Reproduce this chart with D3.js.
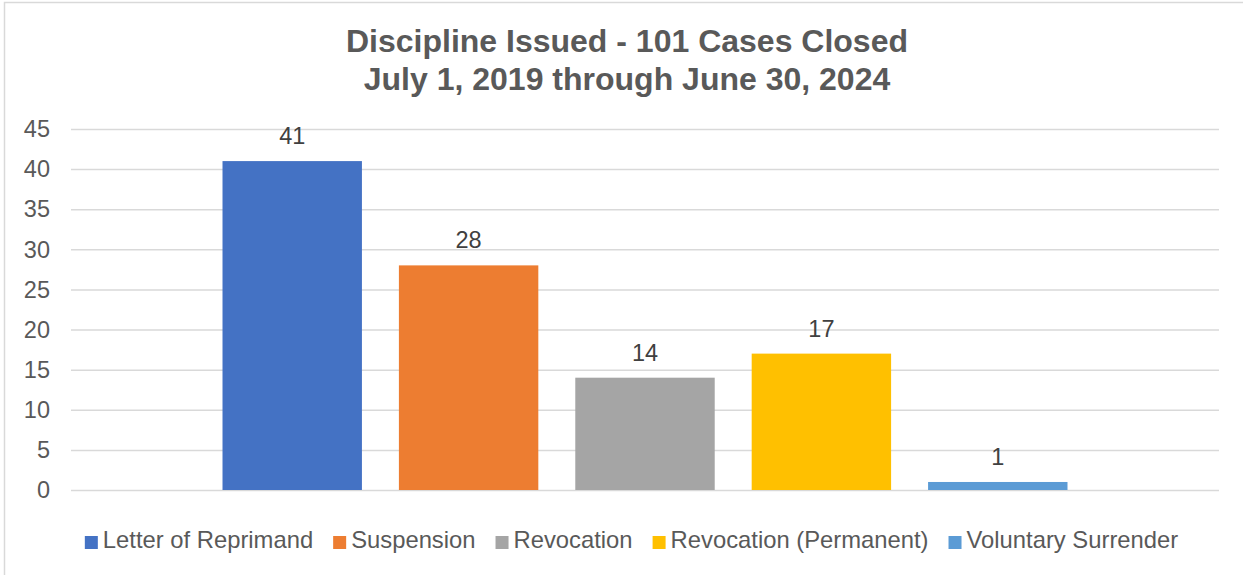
<!DOCTYPE html>
<html>
<head>
<meta charset="utf-8">
<script src="https://cdn.jsdelivr.net/npm/d3@7"></script>
<style>
  html, body { margin: 0; padding: 0; background: #fff; }
  svg { display: block; font-family: "Liberation Sans", Arial, sans-serif; }
</style>
</head>
<body>
<svg id="chart" width="1243" height="575"></svg>
<script>
const titleLines = ["Discipline Issued - 101 Cases Closed", "July 1, 2019 through June 30, 2024"];
const categories = [""];
const seriesNames = ["Letter of Reprimand", "Suspension", "Revocation", "Revocation (Permanent)", "Voluntary Surrender"];
const seriesValues = [41, 28, 14, 17, 1];
const seriesColors = ["#4472C4", "#ED7D31", "#A5A5A5", "#FFC000", "#5B9BD5"];
const yTicks = [0, 5, 10, 15, 20, 25, 30, 35, 40, 45];

const svg = d3.select("#chart");
const W = 1243, H = 575;
const textColor = "#595959";
const gridColor = "#D9D9D9";

// chart border (extends past right/bottom edge like the reference)
svg.append("rect")
  .attr("x", 4.5).attr("y", 2.5)
  .attr("width", W + 10).attr("height", H + 10)
  .attr("fill", "#fff").attr("stroke", gridColor).attr("stroke-width", 1.5);

// title
svg.append("g").selectAll("text").data(titleLines).join("text")
  .attr("x", 627).attr("y", (d, i) => 52 + i * 38)
  .attr("text-anchor", "middle")
  .attr("font-size", 32).attr("font-weight", "bold")
  .attr("fill", textColor)
  .text(d => d);

const plot = { left: 71, right: 1219, top: 129, bottom: 490 };

const y = d3.scaleLinear().domain([0, 45]).range([plot.bottom, plot.top]);
const x0 = d3.scaleBand().domain(categories).range([plot.left, plot.right])
  .paddingInner(0).paddingOuter(0.1793);
const x1 = d3.scaleBand().domain(seriesNames).range([0, x0.bandwidth()])
  .paddingInner(0.2096).paddingOuter(0);

// gridlines
const yAxis = d3.axisLeft(y).tickValues(yTicks).tickSize(-(plot.right - plot.left)).tickPadding(21);
const gAxis = svg.append("g").attr("transform", `translate(${plot.left},0)`).call(yAxis);
gAxis.select(".domain").remove();
gAxis.selectAll(".tick line").attr("stroke", gridColor).attr("stroke-width", 1.5);
gAxis.selectAll(".tick text")
  .attr("fill", textColor).attr("font-size", 23.5)
  .attr("font-family", "Liberation Sans, Arial, sans-serif")
  .attr("dy", "0.33em");

// bars
const data = seriesNames.map((n, i) => ({ name: n, value: seriesValues[i], color: seriesColors[i], cat: categories[0] }));
const gBars = svg.append("g");
gBars.selectAll("rect").data(data).join("rect")
  .attr("x", d => x0(d.cat) + x1(d.name))
  .attr("width", x1.bandwidth())
  .attr("y", d => y(d.value))
  .attr("height", d => y(0) - y(d.value))
  .attr("fill", d => d.color);

// data labels
gBars.selectAll("text").data(data).join("text")
  .attr("x", d => x0(d.cat) + x1(d.name) + x1.bandwidth() / 2)
  .attr("y", d => y(d.value) - 17)
  .attr("text-anchor", "middle")
  .attr("font-size", 23.5).attr("fill", "#404040")
  .text(d => d.value);

// legend
const legend = svg.append("g");
const fontLeg = 23.8, sw = 13, swGap = 5, itemGap = 20;
const items = legend.selectAll("g").data(data).join("g");
items.append("rect").attr("width", sw).attr("height", sw).attr("y", -sw + 1).attr("fill", d => d.color);
items.append("text").attr("x", sw + swGap).attr("font-size", fontLeg).attr("fill", textColor).attr("dy", 0)
  .text(d => d.name);
let xpos = 0;
items.each(function () {
  const g = d3.select(this);
  g.attr("transform", `translate(${xpos},0)`);
  const tw = g.select("text").node().getComputedTextLength();
  xpos += sw + swGap + tw + itemGap;
});
const totalW = xpos - itemGap;
legend.attr("transform", `translate(${(87 + 1176) / 2 - totalW / 2},548)`);
</script>
</body>
</html>
